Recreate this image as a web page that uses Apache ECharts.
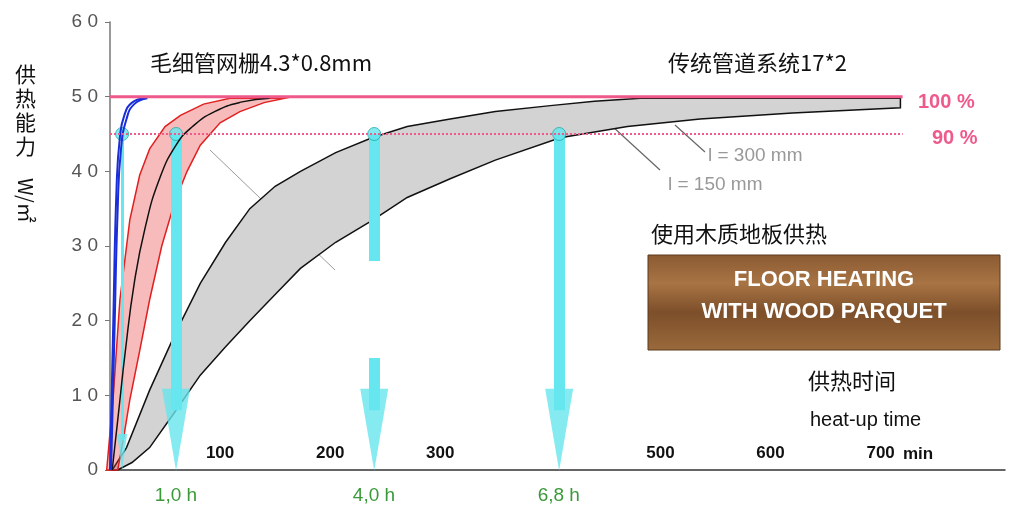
<!DOCTYPE html>
<html><head><meta charset="utf-8">
<script src="https://cdn.jsdelivr.net/npm/echarts@6/dist/echarts.min.js"></script>
<style>html,body{margin:0;background:#fff}#c{width:1028px;height:515px}</style>
</head><body><div id="c"></div>
<script>
// [minutes, W/m2]
const blueA = [[0,0],[3,20],[6,38],[9,44.6],[13,47.5],[20,49.2],[32,49.8]];
const blueB = [[1,0],[4,18],[7,35],[10,43],[15,47],[22,49],[34,49.8]];
const redLeft = [[-3,0],[3,10],[9,22.8],[18,33.5],[27,39.5],[36,43],[50,46],[64,47.5],[85,49],[109,49.8]];
const redRight = [[7,0],[12,4],[18,9.4],[27,16],[36,22.8],[47,30],[59,36],[70,40],[82,43.5],[100,46.5],[118,48],[140,49.2],[159,49.8]];
const blackMid = [[2,0],[8,8],[14,16],[22,25],[32,32.5],[45,39],[60,43.5],[75,46],[95,48],[120,49.3],[145,49.8]];
const grayUpper = [[2,0],[15,3],[36,10.7],[60,18.5],[82,25],[105,30.5],[127,35],[150,38],[173,40],[205,42.5],[238,44.5],[270,46],[309,47],[350,48],[400,48.8],[440,49.4],[482,49.8],[718,49.8]];
const grayLower = [[7,0],[20,1],[36,3],[60,8],[82,12.7],[105,16.5],[127,20],[150,23.5],[173,27],[205,30.5],[239,33.5],[270,36.5],[309,39],[350,41.5],[409,44.5],[470,46],[536,47],[620,47.8],[718,48.5]];
const xTicks = [100,200,300,500,600,700];
const arrowsFull = [60,408];
const timeLabels = [[60,'1,0 h'],[240,'4,0 h'],[408,'6,8 h']];

function band(upper, lower, fill, stroke){
  return {
    type:'custom', coordinateSystem:'cartesian2d', data:[0], silent:true,
    renderItem:function(params, api){
      const pts = upper.map(p=>api.coord(p)).concat(lower.slice().reverse().map(p=>api.coord(p)));
      return {type:'polygon', shape:{points:pts}, style:{fill:fill, stroke:stroke, lineWidth:1.5}};
    }
  };
}
function line(data,color,w){
  return {type:'line', data:data, smooth:true, symbol:'none', lineStyle:{color:color,width:w||1.5}, silent:true};
}
const cyan = '#66e6ee';
const chart = echarts.init(document.getElementById('c'));
const shafts = arrowsFull.map(x=>({coords:[[x,45],[x,8]]}))
  .concat([{coords:[[240,45],[240,28]]},{coords:[[240,15],[240,8]]}]);
chart.setOption({
  animation:false,
  grid:{left:110,right:23,top:22,bottom:45},
  xAxis:{type:'value',min:0,max:813,splitLine:{show:false},
    axisLine:{lineStyle:{color:'#333',width:1.5}},axisTick:{show:false},
    axisLabel:{inside:true,customValues:xTicks,color:'#111',fontWeight:'bold',fontSize:17,fontFamily:'Arial',margin:8}},
  yAxis:{type:'value',min:0,max:60,interval:10,splitLine:{show:false},
    axisLine:{show:true,lineStyle:{color:'#777',width:1.5}},axisTick:{show:true,lineStyle:{color:'#777'}},
    axisLabel:{color:'#555',fontSize:19,fontFamily:'Arial',margin:12,formatter:v=>String(v).split('').join(' ')}},
  series:[
    band(grayUpper, grayLower, '#d3d3d3', '#111'),
    band(redLeft, redRight, 'rgba(235,60,60,0.35)', '#e02020'),
    line(blackMid,'#111',1.5),
    line(blueA,'#1a2ed8',2), line(blueB,'#1a2ed8',2),
    {type:'line',data:[[0,50],[720,50]],symbol:'none',lineStyle:{color:'#ee5a8a',width:3},silent:true},
    {type:'line',data:[[0,45],[720,45]],symbol:'none',lineStyle:{color:'#ee5a8a',width:2,type:'dotted'},silent:true},
    {type:'lines',coordinateSystem:'cartesian2d',silent:true,symbol:['none','none'],
      lineStyle:{color:cyan,width:11,opacity:1},data:shafts},
    {type:'lines',coordinateSystem:'cartesian2d',silent:true,symbol:['none','none'],
      lineStyle:{color:cyan,width:3,opacity:1},data:[{coords:[[11,45],[11,4]]}]},
    {type:'scatter',data:[[60,5.4],[240,5.4],[408,5.4]],symbol:'triangle',symbolRotate:180,symbolSize:[28,82],
      itemStyle:{color:cyan},silent:true},
    {type:'scatter',data:[[11,2.4]],symbol:'triangle',symbolRotate:180,symbolSize:[10,36],
      itemStyle:{color:cyan},silent:true},
    {type:'scatter',data:[[11,45],[60,45],[240,45],[408,45]],symbol:'circle',symbolSize:13,
      itemStyle:{color:cyan,borderColor:'#2aa',borderWidth:1},silent:true}
  ],
  graphic:[
    {type:'line',shape:{x1:210,y1:150,x2:335,y2:270},style:{stroke:'#999',lineWidth:1}},
    {type:'line',shape:{x1:660,y1:170,x2:600,y2:115},style:{stroke:'#666',lineWidth:1.2}},
    {type:'line',shape:{x1:705,y1:152,x2:675,y2:125},style:{stroke:'#666',lineWidth:1.2}},
    {type:'text',left:15,top:62,style:{text:'供\n热\n能\n力',font:'21px "Noto Sans CJK SC"',fill:'#111',lineHeight:24}},
    {type:'text',x:26,y:178,rotation:-Math.PI/2,style:{text:'W/㎡',font:'20px "Noto Sans CJK SC"',fill:'#111',verticalAlign:'middle'}},
    {type:'text',left:150,top:52,style:{text:'毛细管网栅4.3*0.8mm',font:'22px "Noto Sans CJK SC"',fill:'#111'}},
    {type:'text',left:668,top:52,style:{text:'传统管道系统17*2',font:'22px "Noto Sans CJK SC"',fill:'#111'}},
    {type:'text',left:918,top:92,style:{text:'100 %',font:'bold 20px Arial',fill:'#ee5a8a'}},
    {type:'text',left:932,top:128,style:{text:'90 %',font:'bold 20px Arial',fill:'#ee5a8a'}},
    {type:'text',left:708,top:146,style:{text:'l = 300 mm',font:'19px Arial',fill:'#999'}},
    {type:'text',left:668,top:175,style:{text:'l = 150 mm',font:'19px Arial',fill:'#999'}},
    {type:'text',left:651,top:223,style:{text:'使用木质地板供热',font:'22px "Noto Sans CJK SC"',fill:'#111'}},
    {type:'rect',shape:{x:648,y:255,width:352,height:95},style:{fill:new echarts.graphic.LinearGradient(0,0,0,1,[
      {offset:0,color:'#8a5a32'},{offset:0.3,color:'#a87444'},{offset:0.6,color:'#7d4f2a'},{offset:1,color:'#9a6a3c'}]),stroke:'#5a3a1e'}},
    {type:'text',x:824,y:296,style:{text:'FLOOR HEATING\nWITH WOOD PARQUET',font:'bold 22px Arial',fill:'#fff',
      align:'center',verticalAlign:'middle',lineHeight:32}},
    {type:'text',left:808,top:370,style:{text:'供热时间',font:'22px "Noto Sans CJK SC"',fill:'#111'}},
    {type:'text',left:810,top:410,style:{text:'heat-up time',font:'20px Arial',fill:'#111'}},
    {type:'text',left:903,top:446,style:{text:'min',font:'bold 17px Arial',fill:'#111'}}
  ].concat(timeLabels.map(t=>({type:'text',x:110+t[0]*1.1,y:496,
    style:{text:t[1],font:'19px Arial',fill:'#3a9a3a',align:'center',verticalAlign:'middle'}})))
});
</script></body></html>
